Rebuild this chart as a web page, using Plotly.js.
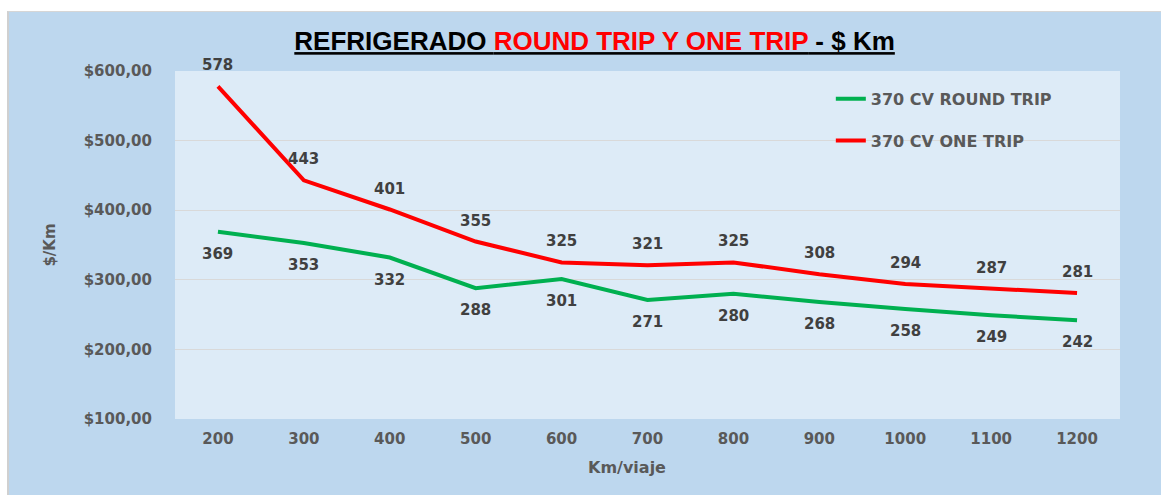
<!DOCTYPE html>
<html><head><meta charset="utf-8">
<script src="https://cdn.plot.ly/plotly-3.0.1.min.js"></script>
<style>
html,body{margin:0;padding:0;background:#fff;width:1161px;height:495px;overflow:hidden}
#wrap{position:absolute;left:7px;top:11px;width:1154px;height:484px;background:#BDD7EE;border-left:2px solid #d0d0d0;border-top:1px solid #d6d6d6}
#chart{position:absolute;left:0;top:0;width:1152px;height:483px}
</style></head>
<body><div id="wrap"><div id="chart"></div></div>
<script>
var categories = ['200','300','400','500','600','700','800','900','1000','1100','1200'];
var roundTrip = [369,353,332,288,301,271,280,268,258,249,242];
var oneTrip = [578,443,401,355,325,321,325,308,294,287,281];
var yTickVals = [100,200,300,400,500,600];
var yTickText = ['$100,00','$200,00','$300,00','$400,00','$500,00','$600,00'];
var seriesNames = ['370 CV ROUND TRIP','370 CV ONE TRIP'];

var grayTxt = '#595959';
var tickFont = {family:'DejaVu Sans', size:15, color:grayTxt, weight:'bold'};
var lblFont = {family:'DejaVu Sans', size:15, color:'#404040', weight:'bold'};

var traces = [
  {x:categories, y:roundTrip, name:seriesNames[0], type:'scatter', mode:'lines',
   line:{color:'#00B050', width:4}, legend:'legend', hoverinfo:'skip'},
  {x:categories, y:oneTrip, name:seriesNames[1], type:'scatter', mode:'lines',
   line:{color:'#FF0000', width:4}, legend:'legend2', hoverinfo:'skip'}
];

var annotations = [];
categories.forEach(function(c,i){
  annotations.push({x:i, y:roundTrip[i], xref:'x', yref:'y', text:String(roundTrip[i]),
    showarrow:false, yshift:-22, font:lblFont});
  annotations.push({x:i, y:oneTrip[i], xref:'x', yref:'y', text:String(oneTrip[i]),
    showarrow:false, yshift:21, font:lblFont});
});
annotations.push({x:0.478, y:-0.14, xref:'paper', yref:'paper', xanchor:'center', yanchor:'middle',
  text:'<b>Km/viaje</b>', showarrow:false, font:{family:'DejaVu Sans', size:16, color:grayTxt}});

var layout = {
  width:1152, height:483,
  margin:{l:166, r:41, t:59, b:76},
  paper_bgcolor:'#BDD7EE', plot_bgcolor:'#DDEBF7',
  title:{text:'<b><u>REFRIGERADO <span style="color:#FF0000">ROUND TRIP Y ONE TRIP</span> - $ Km</u></b>',
    font:{family:'Liberation Sans', size:26, color:'#000'}, x:0.444, xanchor:'center', y:0.94, yanchor:'middle', xref:'paper'},
  xaxis:{type:'category', range:[-0.5,10.5], showgrid:false, zeroline:false, showline:false,
    ticks:'', tickfont:tickFont, fixedrange:true, ticklabelstandoff:9},
  yaxis:{range:[100,600], tickvals:yTickVals, ticktext:yTickText, showgrid:true, gridcolor:'#D9D9D9', gridwidth:1,
    zeroline:false, showline:false, ticks:'', tickfont:tickFont, ticklabelstandoff:22,
    title:{text:'<b>$/Km</b>', font:{family:'DejaVu Sans', size:15, color:grayTxt}, standoff:24}},
  showlegend:true,
  legend:{x:0.694, y:0.92, xanchor:'left', yanchor:'middle', bgcolor:'rgba(0,0,0,0)',
    font:{family:'DejaVu Sans', size:16, color:grayTxt, weight:'bold'}},
  legend2:{x:0.694, y:0.8, xanchor:'left', yanchor:'middle', bgcolor:'rgba(0,0,0,0)',
    font:{family:'DejaVu Sans', size:16, color:grayTxt, weight:'bold'}},
  annotations:annotations
};
Plotly.newPlot('chart', traces, layout, {displayModeBar:false, staticPlot:true});
</script></body></html>
